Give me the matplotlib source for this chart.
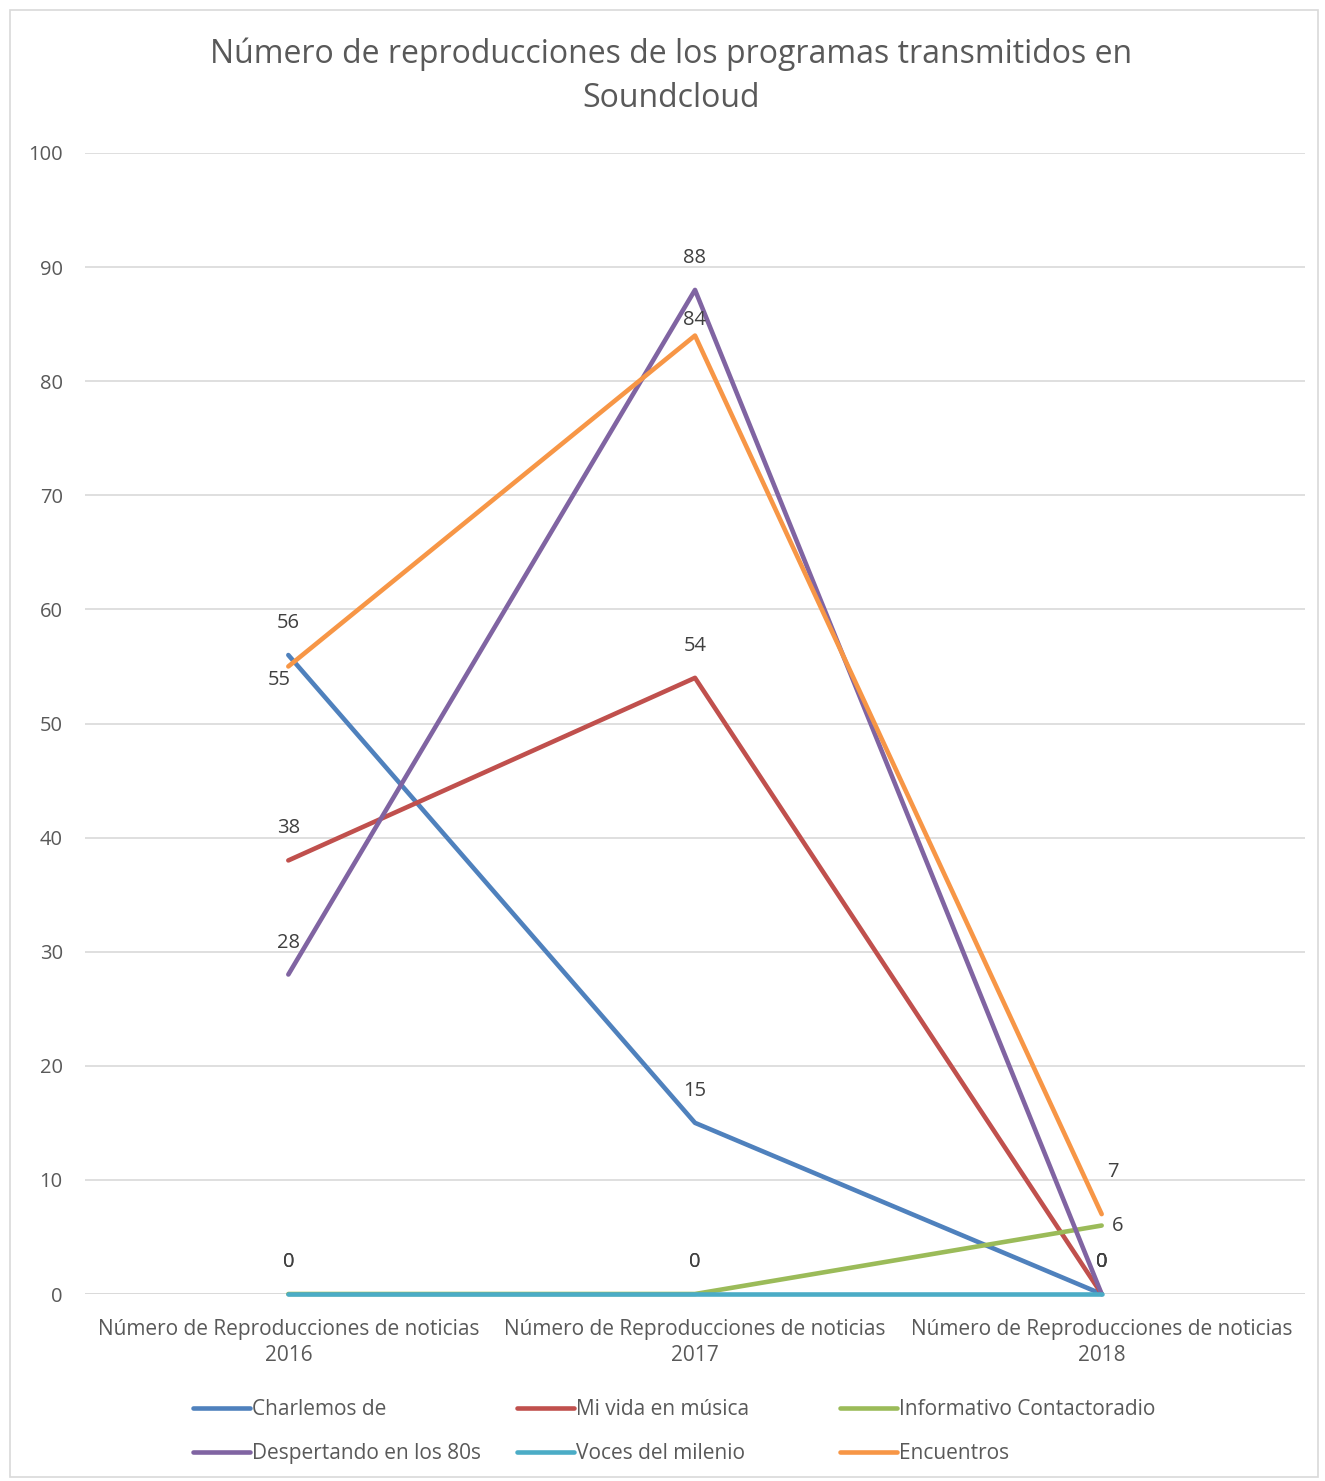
import matplotlib
matplotlib.use("Agg")
import matplotlib.pyplot as plt
from matplotlib.patches import Rectangle

plt.rcParams['font.family'] = ['Open Sans', 'DejaVu Sans']

title = "Número de reproducciones de los programas transmitidos en\nSoundcloud"
categories = ["Número de Reproducciones de noticias\n2016",
              "Número de Reproducciones de noticias\n2017",
              "Número de Reproducciones de noticias\n2018"]
series_names = ["Charlemos de", "Mi vida en música", "Informativo Contactoradio",
                "Despertando en los 80s", "Voces del milenio", "Encuentros"]
charlemos = [56, 15, 0]
mi_vida = [38, 54, 0]
informativo = [0, 0, 6]
despertando = [28, 88, 0]
voces = [0, 0, 0]
encuentros = [55, 84, 7]
y_ticks = [0, 10, 20, 30, 40, 50, 60, 70, 80, 90, 100]

values = [charlemos, mi_vida, informativo, despertando, voces, encuentros]
colors = ["#4f81bd", "#c0504d", "#9bbb59", "#8064a2", "#4bacc6", "#f79646"]

W, H = 1325, 1481
fig = plt.figure(figsize=(W / 100, H / 100), dpi=100)
ax = fig.add_axes([85 / W, 1 - 1294 / H, 1220 / W, (1294 - 153) / H])

x = list(range(len(categories)))
handles = []
for name, vals, c in zip(series_names, values, colors):
    h, = ax.plot(x, vals, color=c, lw=3.3, solid_capstyle='round', label=name,
                 zorder=3, clip_on=False)
    handles.append(h)

# label offsets in pixels (dx, dy) for special cases
default_off = (0, 32)
special = {(5, 0): (-9, -14), (5, 1): (0, 16), (5, 2): (11, 42), (2, 2): (16, 0)}
for si, vals in enumerate(values):
    for i, v in enumerate(vals):
        dx, dy = special.get((si, i), default_off)
        ax.annotate(str(v), (i, v), xytext=(dx, dy), textcoords='offset pixels',
                    ha='center', va='center', fontsize=14.5, color='#404040', zorder=5)

ax.set_xlim(-0.5, 2.5)
ax.set_ylim(0, 100)
ax.set_yticks(y_ticks)
ax.set_xticks(x)
ax.set_xticklabels(categories, fontsize=15, color='#595959', linespacing=1.3)
ax.tick_params(axis='y', labelsize=14.5, labelcolor='#595959', length=0, pad=16)
ax.tick_params(axis='x', length=0, pad=18)
ax.grid(axis='y', color='#d9d9d9', lw=1.2, zorder=0)
for s in ax.spines.values():
    s.set_visible(False)
ax.axhline(0, color='#d9d9d9', lw=1.2, zorder=1)

fig.text(671 / W, 1 - 76 / H, title, ha='center', va='center', fontsize=23,
         color='#595959', linespacing=1.45)

# legend: three columns, each a small legend
col_x = [193, 517, 840]
for j in range(3):
    hs = [handles[j], handles[j + 3]]
    lg = fig.legend(handles=hs, labels=[series_names[j], series_names[j + 3]],
                    loc='upper left', bbox_to_anchor=(col_x[j] / W, 1 - 1399 / H),
                    frameon=False, fontsize=15, handlelength=2.75, handletextpad=0.1,
                    borderpad=0, borderaxespad=0, labelspacing=1.1)
    for t in lg.get_texts():
        t.set_color('#595959')
    for l in lg.get_lines():
        l.set_linewidth(3.3)

fig.patches.append(Rectangle((10 / W, 4 / H), 1308 / W, (H - 14) / H,
                             transform=fig.transFigure, fill=False,
                             edgecolor='#d9d9d9', lw=1.2))

fig.savefig("out.png", dpi=100, facecolor='white')
